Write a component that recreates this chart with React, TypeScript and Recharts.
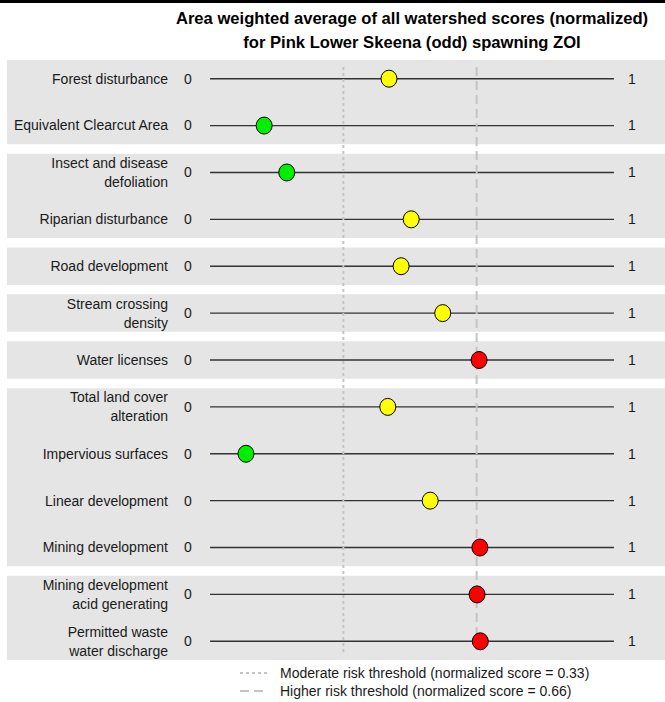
import React from 'react';
import { ScatterChart, Scatter, XAxis, YAxis, ReferenceArea, ReferenceLine } from 'recharts';

// one entry per row, top to bottom (multi-line labels split into lines)
const rowLabels: string[][] = [
  ['Forest disturbance'],
  ['Equivalent Clearcut Area'],
  ['Insect and disease', 'defoliation'],
  ['Riparian disturbance'],
  ['Road development'],
  ['Stream crossing', 'density'],
  ['Water licenses'],
  ['Total land cover', 'alteration'],
  ['Impervious surfaces'],
  ['Linear development'],
  ['Mining development'],
  ['Mining development', 'acid generating'],
  ['Permitted waste', 'water discharge'],
];

const scores = [0.443, 0.134, 0.19, 0.498, 0.473, 0.576, 0.666, 0.44, 0.089, 0.545, 0.668, 0.661, 0.669];

// number of rows in each grey band
const groupSizes = [2, 2, 1, 1, 1, 4, 2];

const moderateThreshold = 0.33;
const higherThreshold = 0.66;

const legendItems = [
  { label: 'Moderate risk threshold (normalized score = 0.33)', dash: '3 3' },
  { label: 'Higher risk threshold (normalized score = 0.66)', dash: '9 5' },
];

const FONT = '"Liberation Sans", Arial, Helvetica, sans-serif';
const TEXT = '#1a1a1a';
const THRESH = '#c4c4c4';

const scoreColor = (s: number) => (s >= higherThreshold ? '#ff0000' : s >= moderateThreshold ? '#ffff00' : '#00ee00');

const points = scores.map((s, i) => ({ x: s, y: i, color: scoreColor(s) }));
const leftLabels = rowLabels.map((lines, i) => ({ x: 0, y: i, lines }));
const rightLabels = rowLabels.map((_, i) => ({ x: 1, y: i }));

const bands: { y1: number; y2: number }[] = [];
let start = 0;
groupSizes.forEach((n) => {
  bands.push({ y1: start - 0.4, y2: start + n - 1 + 0.4 });
  start += n;
});

const Dot = (props: any) => {
  const { cx, cy, payload } = props;
  return <ellipse cx={cx} cy={cy} rx={8} ry={8.5} fill={payload.color} stroke="#000" strokeWidth={1} />;
};

const LeftLabel = (props: any) => {
  const { cx, cy, payload } = props;
  const lines: string[] = payload.lines;
  return (
    <g fontFamily={FONT} fontSize={14} fill={TEXT}>
      {lines.map((t, k) => (
        <text key={k} x={cx - 42} y={cy + (k - (lines.length - 1) / 2) * 19} dy="0.35em" textAnchor="end">
          {t}
        </text>
      ))}
      <text x={cx - 22} y={cy} dy="0.35em" textAnchor="middle">0</text>
    </g>
  );
};

const RightLabel = (props: any) => {
  const { cx, cy } = props;
  return (
    <text x={cx + 18} y={cy} dy="0.35em" textAnchor="middle" fontFamily={FONT} fontSize={14} fill={TEXT}>
      1
    </text>
  );
};

export default function App() {
  const lastRow = rowLabels.length - 1;
  return (
    <div style={{ position: 'absolute', left: 0, top: 0, width: 665, height: 702, background: '#fff', fontFamily: FONT }}>
      <div style={{ position: 'absolute', left: 0, top: 0, width: 665, height: 3, background: '#000' }} />
      <div
        style={{
          position: 'absolute', left: 162, top: 7, width: 500, textAlign: 'center',
          fontWeight: 'bold', fontSize: 16.6, lineHeight: '24px', color: '#000',
        }}
      >
        Area weighted average of all watershed scores (normalized)
        <br />
        for Pink Lower Skeena (odd) spawning ZOI
      </div>

      <div style={{ position: 'absolute', left: 0, top: 0 }}>
        <ScatterChart width={665} height={702} margin={{ top: 59, right: 0, bottom: 41, left: 7 }}>
          <XAxis hide type="number" dataKey="x" domain={[-0.5025, 1.1262]} allowDataOverflow />
          <YAxis hide type="number" dataKey="y" domain={[-0.42, 12.42]} reversed allowDataOverflow />
          {bands.map((b, i) => (
            <ReferenceArea key={'b' + i} y1={b.y1} y2={b.y2} fill="#e5e5e5" fillOpacity={1} stroke="none" />
          ))}
          {rowLabels.map((_, i) => (
            <ReferenceLine key={'r' + i} segment={[{ x: 0, y: i }, { x: 1, y: i }]} stroke="#333" strokeWidth={1.4} />
          ))}
          <ReferenceLine
            segment={[{ x: moderateThreshold, y: -0.25 }, { x: moderateThreshold, y: lastRow + 0.25 }]}
            stroke={THRESH} strokeWidth={2} strokeDasharray="3 3"
          />
          <ReferenceLine
            segment={[{ x: higherThreshold, y: -0.25 }, { x: higherThreshold, y: lastRow + 0.25 }]}
            stroke={THRESH} strokeWidth={2} strokeDasharray="9 5"
          />
          <Scatter data={leftLabels} shape={<LeftLabel />} isAnimationActive={false} />
          <Scatter data={rightLabels} shape={<RightLabel />} isAnimationActive={false} />
          <Scatter data={points} shape={<Dot />} isAnimationActive={false} />
        </ScatterChart>
      </div>

      <div style={{ position: 'absolute', left: 240, top: 664 }}>
        {legendItems.map((item) => (
          <div key={item.label} style={{ display: 'flex', alignItems: 'center', height: 18 }}>
            <svg width={28} height={18} style={{ marginRight: 12 }}>
              <line x1={0} y1={9} x2={28} y2={9} stroke={THRESH} strokeWidth={2} strokeDasharray={item.dash} />
            </svg>
            <span style={{ fontSize: 14, color: TEXT }}>{item.label}</span>
          </div>
        ))}
      </div>
    </div>
  );
}
